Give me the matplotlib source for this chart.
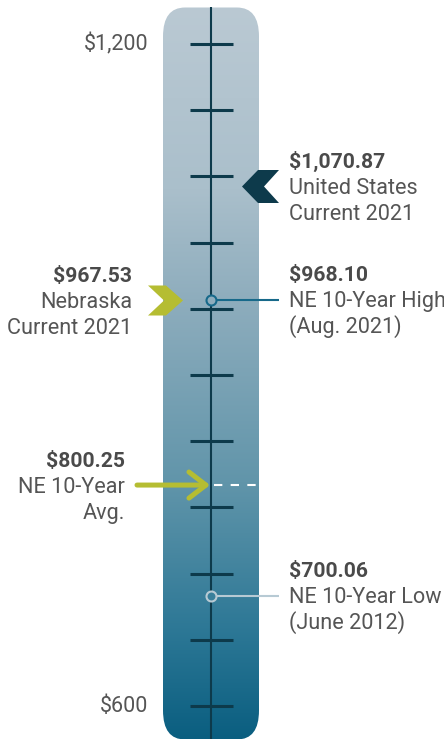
import numpy as np
import matplotlib
matplotlib.use("Agg")
import matplotlib.pyplot as plt
from matplotlib.patches import FancyBboxPatch
from matplotlib.path import Path

plt.rcParams["font.family"] = ["Roboto", "DejaVu Sans"]

# ---- data ($) ----
scale_values = [600, 1200]
scale_labels = ["$600", "$1,200"]
tick_values = [600, 660, 720, 780, 840, 900, 960, 1020, 1080, 1140, 1200]

us_current = 1070.87
ne_current = 967.53
ne_high = 968.10
ne_avg = 800.25
ne_low = 700.06

us_lines = ["$1,070.87", "United States", "Current 2021"]
ne_lines = ["$967.53", "Nebraska", "Current 2021"]
high_lines = ["$968.10", "NE 10-Year High", "(Aug. 2021)"]
avg_lines = ["$800.25", "NE 10-Year", "Avg."]
low_lines = ["$700.06", "NE 10-Year Low", "(June 2012)"]

# ---- style ----
NAVY = "#0d3a4b"
TEAL = "#17698a"
LIGHT = "#b7cad4"
YELLOW = "#b5bd32"
GRAY = "#555555"
BOLD_GRAY = "#4a4a4a"

W, H, DPI = 444, 740, 100
PX = 600 / 662            # dollars per pixel, vertical
y_top = 1200 + 44 * PX
y_bot = y_top - H * PX

fig = plt.figure(figsize=(W / DPI, H / DPI), dpi=DPI)
ax = fig.add_axes([0, 0, 1, 1])

# ---- tube with vertical gradient ----
tube_x0, tube_w = 163, 96
tube_top = y_top - 7.5 * PX
tube_bot = y_top - 739.5 * PX
tube = FancyBboxPatch((tube_x0, tube_bot), tube_w, tube_top - tube_bot,
                      boxstyle="round,pad=0,rounding_size=22",
                      mutation_aspect=29 * PX / 22,
                      facecolor="none", edgecolor="none")
ax.add_patch(tube)

stops = [0.0, 0.25, 0.40, 0.65, 0.85, 1.0]
stop_rgb = np.array([(186, 201, 211), (170, 191, 203), (142, 173, 189),
                     (97, 149, 170), (45, 120, 150), (10, 94, 128)]) / 255


def tube_color(v):
    f = (tube_top - v) / (tube_top - tube_bot)
    return tuple(np.interp(f, stops, stop_rgb[:, k]) for k in range(3))


f = np.linspace(0, 1, 500)
grad = np.stack([np.interp(f, stops, stop_rgb[:, k]) for k in range(3)], axis=1)
im = ax.imshow(grad[:, None, :], extent=[tube_x0, tube_x0 + tube_w, tube_bot, tube_top],
               aspect="auto", origin="upper", interpolation="bilinear", zorder=1)
im.set_clip_path(tube)

# ---- scale line + ticks ----
cx = 211
ax.vlines(cx, tube_bot, tube_top, color=NAVY, lw=1.5, zorder=2)
ax.hlines(tick_values, 190, 233, color=NAVY, lw=2.2, zorder=2)

for v, lab in zip(scale_values, scale_labels):
    ax.text(148, v, lab, ha="right", va="center", fontsize=15.5, color=GRAY)

# ---- chevron markers ----
chev_left = Path([(-18.5, 0), (-2.5, 16.5), (18.5, 16.5), (3.5, 0),
                  (18.5, -16.5), (-2.5, -16.5), (-18.5, 0)],
                 [Path.MOVETO] + [Path.LINETO] * 5 + [Path.CLOSEPOLY])
chev_right = Path([(17.5, 0), (0.5, 15), (-17.5, 15), (-1.5, 0),
                   (-17.5, -15), (0.5, -15), (17.5, 0)],
                  [Path.MOVETO] + [Path.LINETO] * 5 + [Path.CLOSEPOLY])

ax.plot(259.5, us_current, marker=chev_left, ms=37 * 72 / DPI, color=NAVY,
        mew=0, ls="none", zorder=4)
ax.plot(164.5, ne_current, marker=chev_right, ms=35 * 72 / DPI, color=YELLOW,
        mew=0, ls="none", zorder=4)

# ---- 10-year average arrow ----
ax.annotate("", xy=(cx - 1, ne_avg), xytext=(137, ne_avg),
            arrowprops=dict(arrowstyle="->,head_length=1.22,head_width=0.94",
                            lw=3.6, color=YELLOW, mutation_scale=10,
                            shrinkA=0, shrinkB=0), zorder=4)
ax.hlines(ne_avg, cx + 3, tube_x0 + tube_w, color="white", lw=1.5,
          linestyles=(0, (4, 4)), zorder=3)

# ---- high / low circles ----
ax.hlines(ne_high, cx, 279, color=TEAL, lw=1.5, zorder=3)
ax.plot(cx, ne_high, "o", ms=7.2, mew=1.5, mec=TEAL, mfc=tube_color(ne_high), zorder=5)
ax.hlines(ne_low, cx, 279, color=LIGHT, lw=1.5, zorder=3)
ax.plot(cx, ne_low, "o", ms=7.2, mew=1.5, mec=LIGHT, mfc=tube_color(ne_low), zorder=5)


# ---- labels ----
def label(x, v, lines, ha):
    for i, line in enumerate(lines):
        ax.annotate(line, xy=(x, v), xytext=(0, 26 * (1 - i) - 7.5),
                    textcoords="offset pixels", ha=ha, va="baseline",
                    fontsize=15.2 if i == 0 else 15.6,
                    color=BOLD_GRAY if i == 0 else GRAY,
                    fontweight="bold" if i == 0 else "normal")


label(289, us_current, us_lines, "left")
label(289, ne_high, high_lines, "left")
label(289, ne_low, low_lines, "left")
label(132, ne_current, ne_lines, "right")
label(125, ne_avg, avg_lines, "right")

ax.set_xlim(0, W)
ax.set_ylim(y_bot, y_top)
ax.axis("off")

fig.savefig("out.png", dpi=DPI)
